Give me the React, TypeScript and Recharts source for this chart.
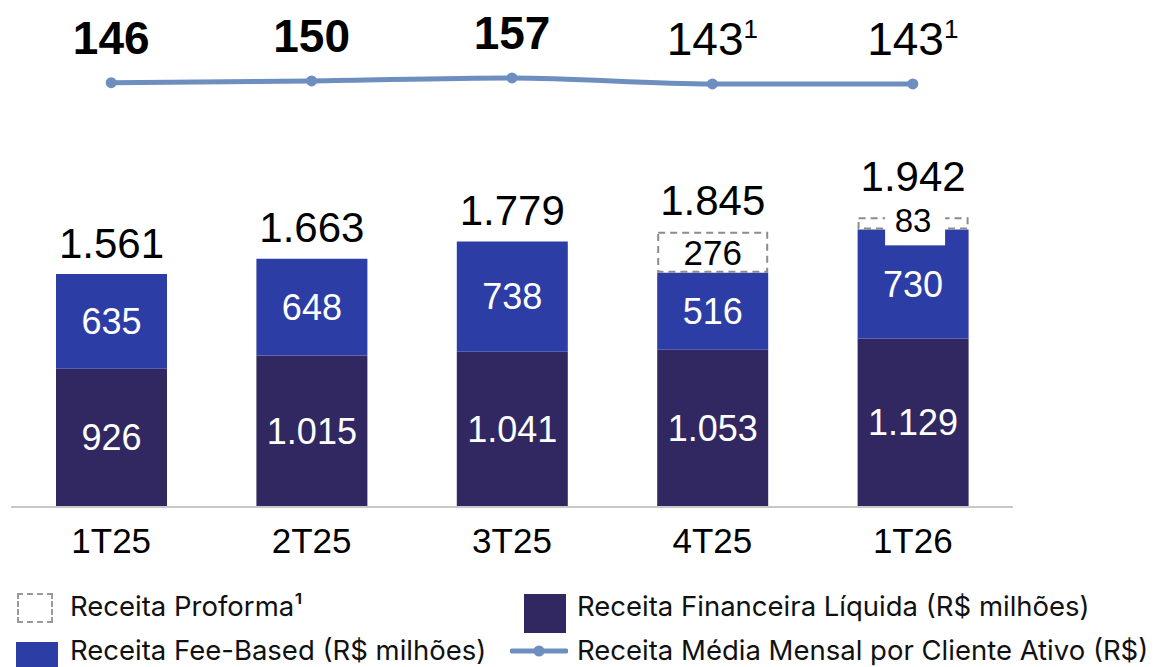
import React from "react";
import { ComposedChart, Bar, Line, XAxis, YAxis, LabelList } from "recharts";

const categories = ["1T25", "2T25", "3T25", "4T25", "1T26"];
const financeira = [926, 1015, 1041, 1053, 1129];
const feeBased = [635, 648, 738, 516, 730];
const proforma = [0, 0, 0, 276, 83];
const mediaMensal = [146, 150, 157, 143, 143];
const footnote = [false, false, false, true, true];

const data = categories.map((c, i) => ({
  cat: c,
  fin: financeira[i],
  fee: feeBased[i],
  pro: proforma[i],
  total: financeira[i] + feeBased[i] + proforma[i],
  avg: mediaMensal[i],
  note: footnote[i],
}));

const DARK = "#312862";
const BLUE = "#2C3DA6";
const LINE = "#6E8EBF";
const NUM_FONT = "'Liberation Sans', Arial, sans-serif";
const LEG_FONT = "Inter, 'Noto Sans', sans-serif";

const fmt = (v: number) => {
  const s = String(Math.round(v));
  return s.replace(/\B(?=(\d{3})+(?!\d))/g, ".");
};

const InnerLabel = (props: any) => {
  const { x, y, width, height, value } = props;
  if (!value) return null;
  return (
    <text
      x={x + width / 2}
      y={y + height / 2}
      textAnchor="middle"
      dominantBaseline="central"
      fill="#fff"
      fontSize={36}
      fontFamily={NUM_FONT}
    >
      {fmt(value)}
    </text>
  );
};

const ProformaShape = (props: any) => {
  const { x, y, width, height } = props;
  if (!height || height <= 0) return null;
  return (
    <rect
      x={x + 1}
      y={y + 1}
      width={width - 2}
      height={height - 2}
      fill="#fff"
      stroke="#8c8c8c"
      strokeWidth={2}
      strokeDasharray="7 5"
    />
  );
};

const ProformaLabel = (props: any) => {
  const { x, y, width, height, value } = props;
  if (!value || !height) return null;
  const small = height < 30;
  const cy = y + height / 2 - (small ? 3 : 0);
  return (
    <g>
      {small && (
        <rect x={x + width / 2 - 28} y={cy - 13} width={60} height={38} fill="#fff" />
      )}
      <text
        x={x + width / 2}
        y={cy}
        textAnchor="middle"
        dominantBaseline="central"
        fill="#000"
        fontSize={small ? 33 : 35}
        fontFamily={NUM_FONT}
      >
        {fmt(value)}
      </text>
    </g>
  );
};

const TotalLabel = (props: any) => {
  const { x, y, width, height, value, index } = props;
  const pro = proforma[index];
  let top = y;
  if (pro > 0 && height < 30) {
    top = y + height / 2 - 3 - 13;
  }
  return (
    <text
      x={x + width / 2}
      y={top - 31}
      textAnchor="middle"
      dominantBaseline="central"
      fill="#000"
      fontSize={42}
      fontFamily={NUM_FONT}
    >
      {fmt(value)}
    </text>
  );
};

const LineLabel = (props: any) => {
  const { x, y, value, index } = props;
  const note = footnote[index];
  return (
    <text
      x={x}
      y={y - 45}
      textAnchor="middle"
      dominantBaseline="central"
      fill="#000"
      fontSize={46}
      fontWeight={note ? 400 : 700}
      fontFamily={NUM_FONT}
    >
      {value}
      {note && (
        <tspan fontSize={26} dy={-10}>
          1
        </tspan>
      )}
    </text>
  );
};

const legendText: React.CSSProperties = {
  position: "absolute",
  fontFamily: LEG_FONT,
  fontSize: 27.5,
  color: "#111",
  lineHeight: "32px",
  whiteSpace: "nowrap",
};

export default function App() {
  return (
    <div
      style={{
        position: "absolute",
        left: 0,
        top: 0,
        width: 1156,
        height: 667,
        background: "#fff",
        overflow: "hidden",
      }}
    >
      <ComposedChart
        width={1156}
        height={667}
        data={data}
        margin={{ top: 7, right: 143, left: 11, bottom: 100 }}
        barCategoryGap={0}
      >
        <XAxis
          dataKey="cat"
          axisLine={{ stroke: "#c8c8c8", strokeWidth: 2 }}
          tickLine={false}
          tickSize={0}
          tickMargin={21}
          height={60}
          tick={{ fill: "#000", fontSize: 35, fontFamily: NUM_FONT }}
          interval={0}
        />
        <YAxis yAxisId="bar" hide domain={[0, 3350]} />
        <YAxis yAxisId="line" hide domain={[-841, 322]} />
        <Bar yAxisId="bar" dataKey="fin" stackId="a" fill={DARK} barSize={111} isAnimationActive={false}>
          <LabelList dataKey="fin" content={InnerLabel} />
        </Bar>
        <Bar yAxisId="bar" dataKey="fee" stackId="a" fill={BLUE} barSize={111} isAnimationActive={false}>
          <LabelList dataKey="fee" content={InnerLabel} />
        </Bar>
        <Bar
          yAxisId="bar"
          dataKey="pro"
          stackId="a"
          barSize={111}
          shape={ProformaShape}
          isAnimationActive={false}
        >
          <LabelList dataKey="pro" content={ProformaLabel} />
          <LabelList dataKey="total" content={TotalLabel} />
        </Bar>
        <Line
          yAxisId="line"
          dataKey="avg"
          type="monotone"
          stroke={LINE}
          strokeWidth={5}
          dot={{ r: 5.5, fill: LINE, stroke: LINE, strokeWidth: 0 }}
          isAnimationActive={false}
        >
          <LabelList dataKey="avg" content={LineLabel} />
        </Line>
      </ComposedChart>

      {/* Legend */}
      <div
        style={{
          position: "absolute",
          left: 17,
          top: 593,
          width: 36,
          height: 30,
          border: "2px dashed #9a9a9a",
          boxSizing: "border-box",
        }}
      />
      <div style={{ ...legendText, left: 70, top: 590 }}>Receita Proforma¹</div>

      <div style={{ position: "absolute", left: 524, top: 594, width: 42, height: 39, background: DARK }} />
      <div style={{ ...legendText, left: 577, top: 590 }}>Receita Financeira Líquida (R$ milhões)</div>

      <div style={{ position: "absolute", left: 16, top: 642, width: 42, height: 40, background: BLUE }} />
      <div style={{ ...legendText, left: 70, top: 634 }}>Receita Fee-Based (R$ milhões)</div>

      <svg style={{ position: "absolute", left: 510, top: 641 }} width={58} height={20}>
        <line x1={2} y1={10} x2={56} y2={10} stroke={LINE} strokeWidth={5} strokeLinecap="round" />
        <circle cx={29} cy={10} r={5.5} fill={LINE} />
      </svg>
      <div style={{ ...legendText, left: 577, top: 634 }}>Receita Média Mensal por Cliente Ativo (R$)</div>
    </div>
  );
}
